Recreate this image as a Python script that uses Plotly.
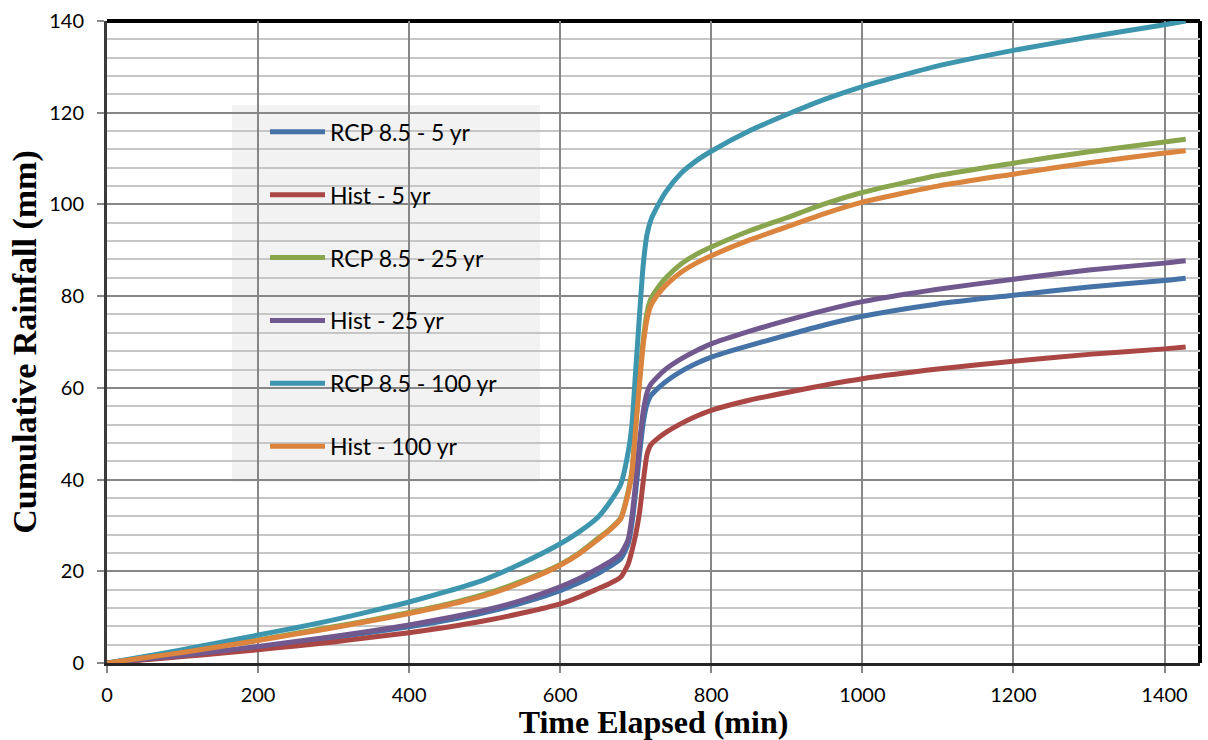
import plotly.graph_objects as go

# Time axis (minutes) shared by every series
time_min = [0, 50, 100, 150, 200, 250, 300, 350, 400, 450, 500, 550, 600, 625, 650, 665, 680,
            690, 695, 700, 705, 710, 715,
            720, 730, 740, 760, 780, 800, 850, 900, 950, 1000, 1100, 1200, 1300, 1400, 1428]

# Cumulative rainfall (mm)
rcp85_5yr = [0, 0.8, 1.6, 2.5, 3.4, 4.4, 5.5, 6.7, 7.9, 9.3, 11.0, 13.1, 15.8, 17.5, 19.5, 21.0, 22.7,
             26.0, 30.5, 37.5, 45.5, 52.5, 56.5,
             58.3, 60.0, 61.4, 63.6, 65.3, 66.7, 69.2, 71.5, 73.7, 75.6, 78.3, 80.2, 82.0, 83.4, 83.9]
hist_5yr = [0, 0.7, 1.4, 2.1, 2.9, 3.7, 4.6, 5.6, 6.6, 7.8, 9.2, 10.9, 12.9, 14.4, 16.2, 17.3, 18.7,
            21.6, 24.5, 28.1, 32.8, 39.7, 45.5,
            47.6, 49.1, 50.3, 52.2, 53.8, 55.1, 57.3, 59.0, 60.6, 62.0, 64.1, 65.8, 67.3, 68.5, 68.9]
rcp85_25yr = [0, 1.2, 2.4, 3.7, 5.0, 6.5, 7.9, 9.4, 11.0, 12.8, 15.0, 17.9, 21.5, 24.0, 27.2, 29.1, 31.6,
              37.5, 42.0, 52.0, 62.0, 70.5, 76.5,
              79.4, 82.0, 84.0, 87.0, 89.1, 90.7, 94.2, 97.1, 100.1, 102.6, 106.3, 109.0, 111.5, 113.6, 114.2]
hist_25yr = [0, 0.85, 1.7, 2.6, 3.6, 4.7, 5.8, 7.0, 8.3, 9.8, 11.5, 13.7, 16.6, 18.4, 20.6, 22.0, 23.8,
             27.0, 32.0, 39.5, 48.0, 55.0, 59.0,
             60.8, 62.6, 64.1, 66.3, 68.1, 69.6, 72.3, 74.7, 76.9, 78.8, 81.5, 83.7, 85.7, 87.2, 87.7]
rcp85_100yr = [0, 1.4, 2.9, 4.5, 6.1, 7.7, 9.4, 11.3, 13.3, 15.6, 18.2, 21.8, 26.0, 28.6, 31.8, 34.9, 38.9,
               46.0, 52.0, 64.0, 76.0, 87.0, 93.5,
               96.6, 100.0, 102.8, 106.8, 109.5, 111.6, 116.0, 119.6, 122.9, 125.7, 130.2, 133.6, 136.5, 139.2, 140.0]
hist_100yr = [0, 1.15, 2.3, 3.6, 4.9, 6.3, 7.7, 9.2, 10.8, 12.6, 14.7, 17.6, 21.3, 23.8, 26.9, 28.9, 31.4,
              37.0, 41.5, 51.5, 61.0, 69.5, 75.0,
              77.9, 80.5, 82.4, 85.2, 87.2, 88.8, 92.2, 95.1, 98.0, 100.5, 104.0, 106.6, 109.1, 111.2, 111.7]

series_names = ["RCP 8.5 - 5 yr", "Hist - 5 yr", "RCP 8.5 - 25 yr",
                "Hist - 25 yr", "RCP 8.5 - 100 yr", "Hist - 100 yr"]
series_values = [rcp85_5yr, hist_5yr, rcp85_25yr, hist_25yr, rcp85_100yr, hist_100yr]
series_colors = ["#4572A7", "#AA4643", "#89A54E", "#71588F", "#3D96AE", "#DB843D"]

fig = go.Figure()
for name, vals, col in zip(series_names, series_values, series_colors):
    fig.add_trace(go.Scatter(
        x=time_min, y=vals, name=name, legendgroup=name, mode="lines",
        line=dict(color=col, width=5, shape="spline", smoothing=0.6),
    ))

L, R, T, B = 107, 8, 16, 77
W, H = 1208, 740
pw, ph = W - L - R, H - T - B

def px_x(p):
    return (p - L) / pw

def px_y(p):
    return (H - B - p) / ph

x_title_font = dict(family="Liberation Serif", size=32, color="black", weight="bold")
y_title_font = dict(family="Liberation Serif", size=34, color="black", weight="bold")
tick_font = dict(family="Lato", size=20, color="black")

fig.update_layout(
    width=W, height=H,
    margin=dict(l=L, r=R, t=T, b=B),
    plot_bgcolor="white", paper_bgcolor="white",
    font=tick_font,
    xaxis=dict(
        range=[0, 1447], tick0=0, dtick=200,
        showgrid=True, gridcolor="#878787", gridwidth=1.5,
        ticks="outside", ticklen=7, tickcolor="#878787", tickwidth=1.5,
        zeroline=False, showline=True, linecolor="#262626", linewidth=3,
        tickfont=tick_font, ticklabelstandoff=5,
        title=dict(text="Time Elapsed (min)", font=x_title_font, standoff=4),
    ),
    yaxis=dict(
        range=[0, 140], tick0=0, dtick=20,
        showgrid=True, gridcolor="#878787", gridwidth=1.5,
        minor=dict(dtick=4, showgrid=True, gridcolor="#c6c6c6", gridwidth=1.5),
        ticks="outside", ticklen=7, tickcolor="#878787", tickwidth=1.5,
        zeroline=False, showline=True, linecolor="#3a3a3a", linewidth=3,
        tickfont=tick_font, ticklabelstandoff=9,
        title=dict(text="Cumulative Rainfall (mm)", font=y_title_font, standoff=3),
    ),
    showlegend=True,
    legend=dict(
        x=px_x(265), y=px_y(106), xanchor="left", yanchor="top",
        bgcolor="rgba(0,0,0,0)", borderwidth=0,
        font=dict(family="Lato", size=23, color="black"),
        tracegroupgap=30, traceorder="grouped", itemwidth=55,
    ),
    shapes=[
        # legend panel
        dict(type="rect", xref="paper", yref="paper", layer="between",
             x0=px_x(232), x1=px_x(540), y0=px_y(480), y1=px_y(101),
             fillcolor="#f2f2f2", line=dict(width=0)),
        # heavy frame on top and right
        dict(type="line", xref="paper", yref="paper", layer="between",
             x0=0, x1=1, y0=1, y1=1, line=dict(color="black", width=4)),
        dict(type="line", xref="paper", yref="paper", layer="between",
             x0=1, x1=1, y0=0, y1=1, line=dict(color="black", width=4)),
    ],
)

fig.write_html("out.html")
